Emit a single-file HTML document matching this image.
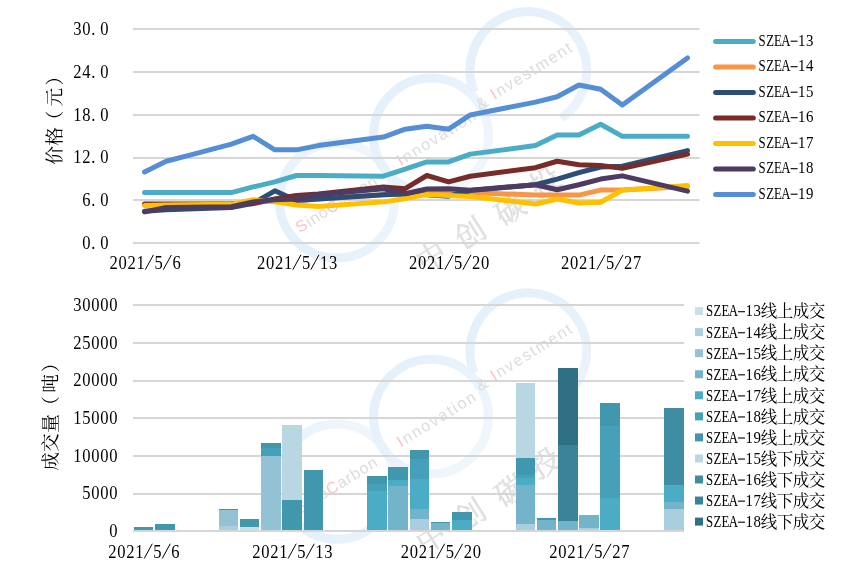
<!DOCTYPE html>
<html><head><meta charset="utf-8"><title>chart</title>
<style>html,body{margin:0;padding:0;background:#fff}body{width:862px;height:581px;overflow:hidden;font-family:"Liberation Serif",serif}svg{display:block;will-change:transform}</style></head>
<body>
<svg width="862" height="581" viewBox="0 0 862 581" font-family="Liberation Serif, serif">
<defs><linearGradient id="rg1" gradientUnits="userSpaceOnUse" x1="290" y1="245" x2="385" y2="155"><stop offset="0" stop-color="#e4f0fa"/><stop offset="1" stop-color="#f0f6fc"/></linearGradient><linearGradient id="rg2" gradientUnits="userSpaceOnUse" x1="385" y1="100" x2="480" y2="175"><stop offset="0" stop-color="#e4f0fa"/><stop offset="1" stop-color="#f0f6fc"/></linearGradient><linearGradient id="rg3" gradientUnits="userSpaceOnUse" x1="490" y1="25" x2="565" y2="120"><stop offset="0" stop-color="#e4f0fa"/><stop offset="1" stop-color="#ebf3fb"/></linearGradient></defs>
<rect width="862" height="581" fill="#fff"/>
<g transform="translate(0 0)">
<g fill="none" stroke="#e2eefa" stroke-width="9">
<circle cx="337" cy="200.5" r="57.6" stroke="url(#rg1)"/>
<circle cx="431" cy="135.5" r="57.4" stroke="url(#rg2)"/>
<path stroke="url(#rg3)" d="M560.9 118.33A58.3 58.3 0 1 0 474.25 91.84"/>
</g>
<g font-family="Liberation Sans, sans-serif" font-size="16" fill="#dcdcdc">
<g transform="translate(301.4 225.6) rotate(-32)"><text x="-5.4" y="5.7" textLength="92.7" lengthAdjust="spacing"><tspan fill="#f8c4c4">S</tspan>ino<tspan fill="#f8c4c4">C</tspan>arbon</text></g>
<g transform="translate(399.8 160.3) rotate(-32)"><text x="-2.2" y="5.7" textLength="89.7" lengthAdjust="spacing"><tspan fill="#f8c4c4">I</tspan>nnovation</text></g>
<g transform="translate(481.6 103) rotate(-32)"><text x="-5.3" y="5.7">&amp;</text></g>
<g transform="translate(493.4 94) rotate(-32)"><text x="-2.2" y="5.7" textLength="92.8" lengthAdjust="spacing"><tspan fill="#f8c4c4">I</tspan>nvestment</text></g>
</g>
<g transform="translate(431 256) rotate(-32)"><text x="-15" y="11.4" font-size="30" font-family="'Liberation Serif', 'Noto Serif CJK SC', serif" fill="#e0e0e0" stroke="#e0e0e0" stroke-width="0.6">中</text></g>
<g transform="translate(470 233) rotate(-32)"><text x="-15" y="11.4" font-size="30" font-family="'Liberation Serif', 'Noto Serif CJK SC', serif" fill="#e0e0e0" stroke="#e0e0e0" stroke-width="0.6">创</text></g>
<g transform="translate(509.6 209) rotate(-32)"><text x="-15" y="11.4" font-size="30" font-family="'Liberation Serif', 'Noto Serif CJK SC', serif" fill="#e0e0e0" stroke="#e0e0e0" stroke-width="0.6">碳</text></g>
<g transform="translate(544.6 181.3) rotate(-32)"><text x="-15" y="11.4" font-size="30" font-family="'Liberation Serif', 'Noto Serif CJK SC', serif" fill="#e0e0e0" stroke="#e0e0e0" stroke-width="0.6">投</text></g>
</g>
<g transform="translate(0 281.2)">
<g fill="none" stroke="#e2eefa" stroke-width="9">
<circle cx="337" cy="200.5" r="57.6" stroke="url(#rg1)"/>
<circle cx="431" cy="135.5" r="57.4" stroke="url(#rg2)"/>
<path stroke="url(#rg3)" d="M560.9 118.33A58.3 58.3 0 1 0 474.25 91.84"/>
</g>
<g font-family="Liberation Sans, sans-serif" font-size="16" fill="#dcdcdc">
<g transform="translate(301.4 225.6) rotate(-32)"><text x="-5.4" y="5.7" textLength="92.7" lengthAdjust="spacing"><tspan fill="#f8c4c4">S</tspan>ino<tspan fill="#f8c4c4">C</tspan>arbon</text></g>
<g transform="translate(399.8 160.3) rotate(-32)"><text x="-2.2" y="5.7" textLength="89.7" lengthAdjust="spacing"><tspan fill="#f8c4c4">I</tspan>nnovation</text></g>
<g transform="translate(481.6 103) rotate(-32)"><text x="-5.3" y="5.7">&amp;</text></g>
<g transform="translate(493.4 94) rotate(-32)"><text x="-2.2" y="5.7" textLength="92.8" lengthAdjust="spacing"><tspan fill="#f8c4c4">I</tspan>nvestment</text></g>
</g>
<g transform="translate(431 256) rotate(-32)"><text x="-15" y="11.4" font-size="30" font-family="'Liberation Serif', 'Noto Serif CJK SC', serif" fill="#e0e0e0" stroke="#e0e0e0" stroke-width="0.6">中</text></g>
<g transform="translate(470 233) rotate(-32)"><text x="-15" y="11.4" font-size="30" font-family="'Liberation Serif', 'Noto Serif CJK SC', serif" fill="#e0e0e0" stroke="#e0e0e0" stroke-width="0.6">创</text></g>
<g transform="translate(509.6 209) rotate(-32)"><text x="-15" y="11.4" font-size="30" font-family="'Liberation Serif', 'Noto Serif CJK SC', serif" fill="#e0e0e0" stroke="#e0e0e0" stroke-width="0.6">碳</text></g>
<g transform="translate(544.6 181.3) rotate(-32)"><text x="-15" y="11.4" font-size="30" font-family="'Liberation Serif', 'Noto Serif CJK SC', serif" fill="#e0e0e0" stroke="#e0e0e0" stroke-width="0.6">投</text></g>
</g>
<rect x="133" y="242" width="566.5" height="2" fill="#d6d6d6"/>
<rect x="133" y="199" width="566.5" height="2" fill="#d6d6d6"/>
<rect x="133" y="157" width="566.5" height="2" fill="#d6d6d6"/>
<rect x="133" y="114" width="566.5" height="2" fill="#d6d6d6"/>
<rect x="133" y="71" width="566.5" height="2" fill="#d6d6d6"/>
<rect x="133" y="28" width="566.5" height="2" fill="#d6d6d6"/>
<rect x="133" y="493" width="551" height="2" fill="#d6d6d6"/>
<rect x="133" y="455" width="551" height="2" fill="#d6d6d6"/>
<rect x="133" y="417" width="551" height="2" fill="#d6d6d6"/>
<rect x="133" y="380" width="551" height="2" fill="#d6d6d6"/>
<rect x="133" y="342" width="551" height="2" fill="#d6d6d6"/>
<rect x="133" y="304" width="551" height="2" fill="#d6d6d6"/>
<polyline points="144.5,192.61 166.22,192.61 187.94,192.61 231.38,192.61 253.1,186.91 274.82,181.92 296.54,175.51 318.26,175.51 383.42,176.22 405.14,169.1 426.86,161.97 448.58,161.97 470.3,154.14 535.46,145.59 557.18,134.9 578.9,134.9 600.62,124.21 622.34,136.32 687.5,136.32" fill="none" stroke="#4bacc6" stroke-width="5" stroke-linecap="round" stroke-linejoin="round"/>
<polyline points="144.5,204.72 166.22,204.72 187.94,204.72 231.38,204.01 253.1,201.88 274.82,201.16 296.54,200.45 318.26,199.02 383.42,194.75 405.14,194.04 426.86,193.32 448.58,191.9 470.3,192.61 535.46,195.11 557.18,195.11 578.9,195.11 600.62,190.12 622.34,190.12 687.5,186.56" fill="none" stroke="#f79646" stroke-width="5" stroke-linecap="round" stroke-linejoin="round"/>
<polyline points="144.5,211.14 166.22,209.71 187.94,209 231.38,207.57 253.1,203.3 274.82,190.83 296.54,200.45 318.26,199.02 383.42,194.75 405.14,194.04 426.86,194.75 448.58,196.17 470.3,190.47 535.46,184.77 557.18,179.07 578.9,172.66 600.62,166.96 622.34,166.25 687.5,150.57" fill="none" stroke="#2c4d75" stroke-width="5" stroke-linecap="round" stroke-linejoin="round"/>
<polyline points="144.5,204.01 166.22,204.01 187.94,204.01 231.38,204.01 253.1,203.66 274.82,199.02 296.54,195.46 318.26,194.04 383.42,186.91 405.14,188.69 426.86,175.51 448.58,181.92 470.3,176.22 535.46,167.68 557.18,161.26 578.9,164.82 600.62,165.54 622.34,168.39 687.5,154.14" fill="none" stroke="#772c2a" stroke-width="5" stroke-linecap="round" stroke-linejoin="round"/>
<polyline points="144.5,205.44 166.22,205.08 187.94,204.72 231.38,204.37 253.1,199.74 274.82,201.88 296.54,205.08 318.26,206.51 383.42,201.88 405.14,198.67 426.86,194.39 448.58,195.46 470.3,196.53 535.46,204.01 557.18,199.02 578.9,202.94 600.62,202.23 622.34,190.12 687.5,185.49" fill="none" stroke="#ffc000" stroke-width="5" stroke-linecap="round" stroke-linejoin="round"/>
<polyline points="144.5,211.85 166.22,207.57 187.94,207.22 231.38,206.72 253.1,201.88 274.82,199.74 296.54,199.02 318.26,194.75 383.42,188.69 405.14,193.68 426.86,189.05 448.58,188.69 470.3,190.12 535.46,184.77 557.18,189.76 578.9,184.77 600.62,179.07 622.34,175.87 687.5,191.19" fill="none" stroke="#4d3b62" stroke-width="5" stroke-linecap="round" stroke-linejoin="round"/>
<polyline points="144.5,171.95 166.22,161.26 187.94,155.56 231.38,144.16 253.1,136.32 274.82,149.86 296.54,149.86 318.26,145.59 383.42,137.04 405.14,129.2 426.86,126.35 448.58,129.2 470.3,114.95 535.46,102.12 557.18,96.78 578.9,85.03 600.62,89.3 622.34,104.97 687.5,57.95" fill="none" stroke="#558ed5" stroke-width="5" stroke-linecap="round" stroke-linejoin="round"/>
<text transform="scale(0.93 1)" x="92.9 100.26 112.26" y="248.9" font-size="17.8" fill="#000" text-anchor="middle">0.0</text>
<text transform="scale(0.93 1)" x="92.9 100.26 112.26" y="206.15" font-size="17.8" fill="#000" text-anchor="middle">6.0</text>
<text transform="scale(0.93 1)" x="83.23 92.9 100.26 112.26" y="163.4" font-size="17.8" fill="#000" text-anchor="middle">12.0</text>
<text transform="scale(0.93 1)" x="83.23 92.9 100.26 112.26" y="120.65" font-size="17.8" fill="#000" text-anchor="middle">18.0</text>
<text transform="scale(0.93 1)" x="83.23 92.9 100.26 112.26" y="77.9" font-size="17.8" fill="#000" text-anchor="middle">24.0</text>
<text transform="scale(0.93 1)" x="83.23 92.9 100.26 112.26" y="35.15" font-size="17.8" fill="#000" text-anchor="middle">30.0</text>
<text transform="scale(0.93 1)" x="122.15 131.83 141.51 151.18 170.54 189.89" y="268.8" font-size="17.8" fill="#000" text-anchor="middle">202156</text><line x1="145.3" y1="269.7" x2="153.38" y2="254.92" stroke="#000" stroke-width="1"/><line x1="163.3" y1="269.7" x2="171.38" y2="254.92" stroke="#000" stroke-width="1"/>
<text transform="scale(0.93 1)" x="280.8 290.47 300.15 309.83 329.18 348.54 358.22" y="268.8" font-size="17.8" fill="#000" text-anchor="middle">2021513</text><line x1="292.84" y1="269.7" x2="300.92" y2="254.92" stroke="#000" stroke-width="1"/><line x1="310.84" y1="269.7" x2="318.92" y2="254.92" stroke="#000" stroke-width="1"/>
<text transform="scale(0.93 1)" x="444.28 453.96 463.63 473.31 492.67 512.02 521.7" y="268.8" font-size="17.8" fill="#000" text-anchor="middle">2021520</text><line x1="444.88" y1="269.7" x2="452.96" y2="254.92" stroke="#000" stroke-width="1"/><line x1="462.88" y1="269.7" x2="470.96" y2="254.92" stroke="#000" stroke-width="1"/>
<text transform="scale(0.93 1)" x="607.76 617.44 627.12 636.8 656.15 675.51 685.18" y="268.8" font-size="17.8" fill="#000" text-anchor="middle">2021527</text><line x1="596.92" y1="269.7" x2="605" y2="254.92" stroke="#000" stroke-width="1"/><line x1="614.92" y1="269.7" x2="623" y2="254.92" stroke="#000" stroke-width="1"/>
<g font-family="'Liberation Serif', 'Noto Serif CJK SC', serif" font-size="18.7" fill="#000">
<g transform="translate(54 155.4) rotate(-90)"><text x="-9.42" y="7.09">价</text></g>
<g transform="translate(54 136.45) rotate(-90)"><text x="-9.33" y="7.09">格</text></g>
<g transform="translate(54 114.75) rotate(-90)"><text x="-14.83" y="7.09">（</text></g>
<g transform="translate(54 97.2) rotate(-90)"><text x="-9.36" y="7.09">元</text></g>
<g transform="translate(54 81.6) rotate(-90)"><text x="-3.84" y="7.09">）</text></g>
</g>
<line x1="715.6" x2="753.3" y1="41.4" y2="41.4" stroke="#4bacc6" stroke-width="5" stroke-linecap="round"/>
<text transform="scale(0.8 1)" x="952.71 962.62 972.53 982.44" y="46" font-size="16" fill="#000" text-anchor="middle">SZEA</text><text transform="scale(0.93 1)" x="862.17 870.69" y="46" font-size="16" fill="#000" text-anchor="middle">13</text><line x1="790.62" y1="41.2" x2="797.55" y2="41.2" stroke="#000" stroke-width="1.1"/>
<line x1="715.6" x2="753.3" y1="66.9" y2="66.9" stroke="#f79646" stroke-width="5" stroke-linecap="round"/>
<text transform="scale(0.8 1)" x="952.71 962.62 972.53 982.44" y="71.5" font-size="16" fill="#000" text-anchor="middle">SZEA</text><text transform="scale(0.93 1)" x="862.17 870.69" y="71.5" font-size="16" fill="#000" text-anchor="middle">14</text><line x1="790.62" y1="66.7" x2="797.55" y2="66.7" stroke="#000" stroke-width="1.1"/>
<line x1="715.6" x2="753.3" y1="92.4" y2="92.4" stroke="#2c4d75" stroke-width="5" stroke-linecap="round"/>
<text transform="scale(0.8 1)" x="952.71 962.62 972.53 982.44" y="97" font-size="16" fill="#000" text-anchor="middle">SZEA</text><text transform="scale(0.93 1)" x="862.17 870.69" y="97" font-size="16" fill="#000" text-anchor="middle">15</text><line x1="790.62" y1="92.2" x2="797.55" y2="92.2" stroke="#000" stroke-width="1.1"/>
<line x1="715.6" x2="753.3" y1="117.9" y2="117.9" stroke="#772c2a" stroke-width="5" stroke-linecap="round"/>
<text transform="scale(0.8 1)" x="952.71 962.62 972.53 982.44" y="122.5" font-size="16" fill="#000" text-anchor="middle">SZEA</text><text transform="scale(0.93 1)" x="862.17 870.69" y="122.5" font-size="16" fill="#000" text-anchor="middle">16</text><line x1="790.62" y1="117.7" x2="797.55" y2="117.7" stroke="#000" stroke-width="1.1"/>
<line x1="715.6" x2="753.3" y1="143.4" y2="143.4" stroke="#ffc000" stroke-width="5" stroke-linecap="round"/>
<text transform="scale(0.8 1)" x="952.71 962.62 972.53 982.44" y="148" font-size="16" fill="#000" text-anchor="middle">SZEA</text><text transform="scale(0.93 1)" x="862.17 870.69" y="148" font-size="16" fill="#000" text-anchor="middle">17</text><line x1="790.62" y1="143.2" x2="797.55" y2="143.2" stroke="#000" stroke-width="1.1"/>
<line x1="715.6" x2="753.3" y1="168.9" y2="168.9" stroke="#4d3b62" stroke-width="5" stroke-linecap="round"/>
<text transform="scale(0.8 1)" x="952.71 962.62 972.53 982.44" y="173.5" font-size="16" fill="#000" text-anchor="middle">SZEA</text><text transform="scale(0.93 1)" x="862.17 870.69" y="173.5" font-size="16" fill="#000" text-anchor="middle">18</text><line x1="790.62" y1="168.7" x2="797.55" y2="168.7" stroke="#000" stroke-width="1.1"/>
<line x1="715.6" x2="753.3" y1="194.4" y2="194.4" stroke="#558ed5" stroke-width="5" stroke-linecap="round"/>
<text transform="scale(0.8 1)" x="952.71 962.62 972.53 982.44" y="199" font-size="16" fill="#000" text-anchor="middle">SZEA</text><text transform="scale(0.93 1)" x="862.17 870.69" y="199" font-size="16" fill="#000" text-anchor="middle">19</text><line x1="790.62" y1="194.2" x2="797.55" y2="194.2" stroke="#000" stroke-width="1.1"/>
<g shape-rendering="crispEdges">
<rect x="134" y="527" width="19" height="4" fill="#4197ae"/>
<rect x="155" y="524" width="20" height="7" fill="#4197ae"/>
<rect x="219" y="526" width="19" height="5" fill="#a9cede"/>
<rect x="219" y="510" width="19" height="16" fill="#93c2d5"/>
<rect x="219" y="509" width="19" height="1" fill="#4197ae"/>
<rect x="240" y="527" width="19" height="4" fill="#c9dfe8"/>
<rect x="240" y="519" width="19" height="8" fill="#4197ae"/>
<rect x="261" y="456" width="20" height="75" fill="#93c2d5"/>
<rect x="261" y="448" width="20" height="8" fill="#46a0b9"/>
<rect x="261" y="443" width="20" height="5" fill="#4197ae"/>
<rect x="282" y="500" width="20" height="31" fill="#4197ae"/>
<rect x="282" y="425" width="20" height="75" fill="#b9d7e3"/>
<rect x="304" y="470" width="19" height="61" fill="#4197ae"/>
<rect x="367" y="491" width="20" height="40" fill="#4aacc5"/>
<rect x="367" y="484" width="20" height="7" fill="#46a0b9"/>
<rect x="367" y="476" width="20" height="8" fill="#4197ae"/>
<rect x="388" y="486" width="20" height="45" fill="#73b4cb"/>
<rect x="388" y="480" width="20" height="6" fill="#4aacc5"/>
<rect x="388" y="467" width="20" height="13" fill="#4197ae"/>
<rect x="410" y="519" width="19" height="12" fill="#a9cede"/>
<rect x="410" y="509" width="19" height="10" fill="#73b4cb"/>
<rect x="410" y="479" width="19" height="30" fill="#4aacc5"/>
<rect x="410" y="459" width="19" height="20" fill="#46a0b9"/>
<rect x="410" y="450" width="19" height="9" fill="#4197ae"/>
<rect x="431" y="523" width="19" height="8" fill="#73b4cb"/>
<rect x="431" y="522" width="19" height="1" fill="#4197ae"/>
<rect x="452" y="520" width="20" height="11" fill="#4aacc5"/>
<rect x="452" y="512" width="20" height="8" fill="#4197ae"/>
<rect x="516" y="524" width="19" height="7" fill="#a9cede"/>
<rect x="516" y="485" width="19" height="39" fill="#73b4cb"/>
<rect x="516" y="478" width="19" height="7" fill="#4aacc5"/>
<rect x="516" y="475" width="19" height="3" fill="#46a0b9"/>
<rect x="516" y="458" width="19" height="17" fill="#4197ae"/>
<rect x="516" y="383" width="19" height="75" fill="#b9d7e3"/>
<rect x="537" y="520" width="19" height="11" fill="#73b4cb"/>
<rect x="537" y="518" width="19" height="2" fill="#4197ae"/>
<rect x="558" y="521" width="20" height="10" fill="#73b4cb"/>
<rect x="558" y="445" width="20" height="76" fill="#3a8398"/>
<rect x="558" y="368" width="20" height="77" fill="#2f7084"/>
<rect x="579" y="528" width="20" height="3" fill="#a9cede"/>
<rect x="579" y="515" width="20" height="13" fill="#73b4cb"/>
<rect x="600" y="498" width="20" height="33" fill="#4aacc5"/>
<rect x="600" y="426" width="20" height="72" fill="#46a0b9"/>
<rect x="600" y="403" width="20" height="23" fill="#4197ae"/>
<rect x="664" y="509" width="20" height="22" fill="#a9cede"/>
<rect x="664" y="502" width="20" height="7" fill="#73b4cb"/>
<rect x="664" y="485" width="20" height="17" fill="#4aacc5"/>
<rect x="664" y="408" width="20" height="77" fill="#3f8da3"/>
<rect x="133" y="530" width="551" height="2" fill="#d6d6d6"/>
</g>
<text transform="scale(0.93 1)" x="121.83" y="537" font-size="17.8" fill="#000" text-anchor="middle">0</text>
<text transform="scale(0.93 1)" x="92.8 102.47 112.15 121.83" y="499.33" font-size="17.8" fill="#000" text-anchor="middle">5000</text>
<text transform="scale(0.93 1)" x="83.12 92.8 102.47 112.15 121.83" y="461.67" font-size="17.8" fill="#000" text-anchor="middle">10000</text>
<text transform="scale(0.93 1)" x="83.12 92.8 102.47 112.15 121.83" y="424" font-size="17.8" fill="#000" text-anchor="middle">15000</text>
<text transform="scale(0.93 1)" x="83.12 92.8 102.47 112.15 121.83" y="386.33" font-size="17.8" fill="#000" text-anchor="middle">20000</text>
<text transform="scale(0.93 1)" x="83.12 92.8 102.47 112.15 121.83" y="348.67" font-size="17.8" fill="#000" text-anchor="middle">25000</text>
<text transform="scale(0.93 1)" x="83.12 92.8 102.47 112.15 121.83" y="311" font-size="17.8" fill="#000" text-anchor="middle">30000</text>
<text transform="scale(0.93 1)" x="120.96 130.64 140.31 149.99 169.35 188.7" y="557.6" font-size="17.8" fill="#000" text-anchor="middle">202156</text><line x1="144.19" y1="558.5" x2="152.27" y2="543.72" stroke="#000" stroke-width="1"/><line x1="162.19" y1="558.5" x2="170.27" y2="543.72" stroke="#000" stroke-width="1"/>
<text transform="scale(0.93 1)" x="275.72 285.4 295.08 304.75 324.11 343.46 353.14" y="557.6" font-size="17.8" fill="#000" text-anchor="middle">2021513</text><line x1="288.12" y1="558.5" x2="296.2" y2="543.72" stroke="#000" stroke-width="1"/><line x1="306.12" y1="558.5" x2="314.2" y2="543.72" stroke="#000" stroke-width="1"/>
<text transform="scale(0.93 1)" x="435.32 445 454.68 464.36 483.71 503.07 512.74" y="557.6" font-size="17.8" fill="#000" text-anchor="middle">2021520</text><line x1="436.55" y1="558.5" x2="444.63" y2="543.72" stroke="#000" stroke-width="1"/><line x1="454.55" y1="558.5" x2="462.63" y2="543.72" stroke="#000" stroke-width="1"/>
<text transform="scale(0.93 1)" x="594.93 604.6 614.28 623.96 643.31 662.67 672.35" y="557.6" font-size="17.8" fill="#000" text-anchor="middle">2021527</text><line x1="584.98" y1="558.5" x2="593.06" y2="543.72" stroke="#000" stroke-width="1"/><line x1="602.98" y1="558.5" x2="611.06" y2="543.72" stroke="#000" stroke-width="1"/>
<g font-family="'Liberation Serif', 'Noto Serif CJK SC', serif" font-size="18.7" fill="#000">
<g transform="translate(50.15 461.5) rotate(-90)"><text x="-9.25" y="7.09">成</text></g>
<g transform="translate(50.15 442.65) rotate(-90)"><text x="-9.43" y="7.09">交</text></g>
<g transform="translate(50.15 423.3) rotate(-90)"><text x="-9.37" y="7.09">量</text></g>
<g transform="translate(50.15 400.2) rotate(-90)"><text x="-14.83" y="7.09">（</text></g>
<g transform="translate(50.15 383) rotate(-90)"><text x="-9.72" y="7.09">吨</text></g>
<g transform="translate(50.15 368.45) rotate(-90)"><text x="-3.84" y="7.09">）</text></g>
</g>
<rect x="695" y="307.1" width="8" height="8" fill="#c9dfe8"/>
<text transform="scale(0.8 1)" x="886.96 896.87 906.78 916.69" y="316.5" font-size="16" fill="#000" text-anchor="middle">SZEA</text><text transform="scale(0.93 1)" x="805.61 814.13" y="316.5" font-size="16" fill="#000" text-anchor="middle">13</text><line x1="738.02" y1="311.7" x2="744.95" y2="311.7" stroke="#000" stroke-width="1.1"/>
<text x="760.87 776.87 792.87 808.87" y="317.3" font-size="16.5" font-family="'Liberation Serif', 'Noto Serif CJK SC', serif" fill="#000">线上成交</text>
<rect x="695" y="328.15" width="8" height="8" fill="#a9cede"/>
<text transform="scale(0.8 1)" x="886.96 896.87 906.78 916.69" y="337.55" font-size="16" fill="#000" text-anchor="middle">SZEA</text><text transform="scale(0.93 1)" x="805.61 814.13" y="337.55" font-size="16" fill="#000" text-anchor="middle">14</text><line x1="738.02" y1="332.75" x2="744.95" y2="332.75" stroke="#000" stroke-width="1.1"/>
<text x="760.87 776.87 792.87 808.87" y="338.35" font-size="16.5" font-family="'Liberation Serif', 'Noto Serif CJK SC', serif" fill="#000">线上成交</text>
<rect x="695" y="349.2" width="8" height="8" fill="#93c2d5"/>
<text transform="scale(0.8 1)" x="886.96 896.87 906.78 916.69" y="358.6" font-size="16" fill="#000" text-anchor="middle">SZEA</text><text transform="scale(0.93 1)" x="805.61 814.13" y="358.6" font-size="16" fill="#000" text-anchor="middle">15</text><line x1="738.02" y1="353.8" x2="744.95" y2="353.8" stroke="#000" stroke-width="1.1"/>
<text x="760.87 776.87 792.87 808.87" y="359.4" font-size="16.5" font-family="'Liberation Serif', 'Noto Serif CJK SC', serif" fill="#000">线上成交</text>
<rect x="695" y="370.25" width="8" height="8" fill="#73b4cb"/>
<text transform="scale(0.8 1)" x="886.96 896.87 906.78 916.69" y="379.65" font-size="16" fill="#000" text-anchor="middle">SZEA</text><text transform="scale(0.93 1)" x="805.61 814.13" y="379.65" font-size="16" fill="#000" text-anchor="middle">16</text><line x1="738.02" y1="374.85" x2="744.95" y2="374.85" stroke="#000" stroke-width="1.1"/>
<text x="760.87 776.87 792.87 808.87" y="380.45" font-size="16.5" font-family="'Liberation Serif', 'Noto Serif CJK SC', serif" fill="#000">线上成交</text>
<rect x="695" y="391.3" width="8" height="8" fill="#4aacc5"/>
<text transform="scale(0.8 1)" x="886.96 896.87 906.78 916.69" y="400.7" font-size="16" fill="#000" text-anchor="middle">SZEA</text><text transform="scale(0.93 1)" x="805.61 814.13" y="400.7" font-size="16" fill="#000" text-anchor="middle">17</text><line x1="738.02" y1="395.9" x2="744.95" y2="395.9" stroke="#000" stroke-width="1.1"/>
<text x="760.87 776.87 792.87 808.87" y="401.5" font-size="16.5" font-family="'Liberation Serif', 'Noto Serif CJK SC', serif" fill="#000">线上成交</text>
<rect x="695" y="412.35" width="8" height="8" fill="#46a0b9"/>
<text transform="scale(0.8 1)" x="886.96 896.87 906.78 916.69" y="421.75" font-size="16" fill="#000" text-anchor="middle">SZEA</text><text transform="scale(0.93 1)" x="805.61 814.13" y="421.75" font-size="16" fill="#000" text-anchor="middle">18</text><line x1="738.02" y1="416.95" x2="744.95" y2="416.95" stroke="#000" stroke-width="1.1"/>
<text x="760.87 776.87 792.87 808.87" y="422.55" font-size="16.5" font-family="'Liberation Serif', 'Noto Serif CJK SC', serif" fill="#000">线上成交</text>
<rect x="695" y="433.4" width="8" height="8" fill="#4197ae"/>
<text transform="scale(0.8 1)" x="886.96 896.87 906.78 916.69" y="442.8" font-size="16" fill="#000" text-anchor="middle">SZEA</text><text transform="scale(0.93 1)" x="805.61 814.13" y="442.8" font-size="16" fill="#000" text-anchor="middle">19</text><line x1="738.02" y1="438" x2="744.95" y2="438" stroke="#000" stroke-width="1.1"/>
<text x="760.87 776.87 792.87 808.87" y="443.6" font-size="16.5" font-family="'Liberation Serif', 'Noto Serif CJK SC', serif" fill="#000">线上成交</text>
<rect x="695" y="454.45" width="8" height="8" fill="#b9d7e3"/>
<text transform="scale(0.8 1)" x="886.96 896.87 906.78 916.69" y="463.85" font-size="16" fill="#000" text-anchor="middle">SZEA</text><text transform="scale(0.93 1)" x="805.61 814.13" y="463.85" font-size="16" fill="#000" text-anchor="middle">15</text><line x1="738.02" y1="459.05" x2="744.95" y2="459.05" stroke="#000" stroke-width="1.1"/>
<text x="760.87 776.87 792.87 808.87" y="464.65" font-size="16.5" font-family="'Liberation Serif', 'Noto Serif CJK SC', serif" fill="#000">线下成交</text>
<rect x="695" y="475.5" width="8" height="8" fill="#3f8da3"/>
<text transform="scale(0.8 1)" x="886.96 896.87 906.78 916.69" y="484.9" font-size="16" fill="#000" text-anchor="middle">SZEA</text><text transform="scale(0.93 1)" x="805.61 814.13" y="484.9" font-size="16" fill="#000" text-anchor="middle">16</text><line x1="738.02" y1="480.1" x2="744.95" y2="480.1" stroke="#000" stroke-width="1.1"/>
<text x="760.87 776.87 792.87 808.87" y="485.7" font-size="16.5" font-family="'Liberation Serif', 'Noto Serif CJK SC', serif" fill="#000">线下成交</text>
<rect x="695" y="496.55" width="8" height="8" fill="#3a8398"/>
<text transform="scale(0.8 1)" x="886.96 896.87 906.78 916.69" y="505.95" font-size="16" fill="#000" text-anchor="middle">SZEA</text><text transform="scale(0.93 1)" x="805.61 814.13" y="505.95" font-size="16" fill="#000" text-anchor="middle">17</text><line x1="738.02" y1="501.15" x2="744.95" y2="501.15" stroke="#000" stroke-width="1.1"/>
<text x="760.87 776.87 792.87 808.87" y="506.75" font-size="16.5" font-family="'Liberation Serif', 'Noto Serif CJK SC', serif" fill="#000">线下成交</text>
<rect x="695" y="517.6" width="8" height="8" fill="#2f7084"/>
<text transform="scale(0.8 1)" x="886.96 896.87 906.78 916.69" y="527" font-size="16" fill="#000" text-anchor="middle">SZEA</text><text transform="scale(0.93 1)" x="805.61 814.13" y="527" font-size="16" fill="#000" text-anchor="middle">18</text><line x1="738.02" y1="522.2" x2="744.95" y2="522.2" stroke="#000" stroke-width="1.1"/>
<text x="760.87 776.87 792.87 808.87" y="527.8" font-size="16.5" font-family="'Liberation Serif', 'Noto Serif CJK SC', serif" fill="#000">线下成交</text>
</svg>
</body></html>
